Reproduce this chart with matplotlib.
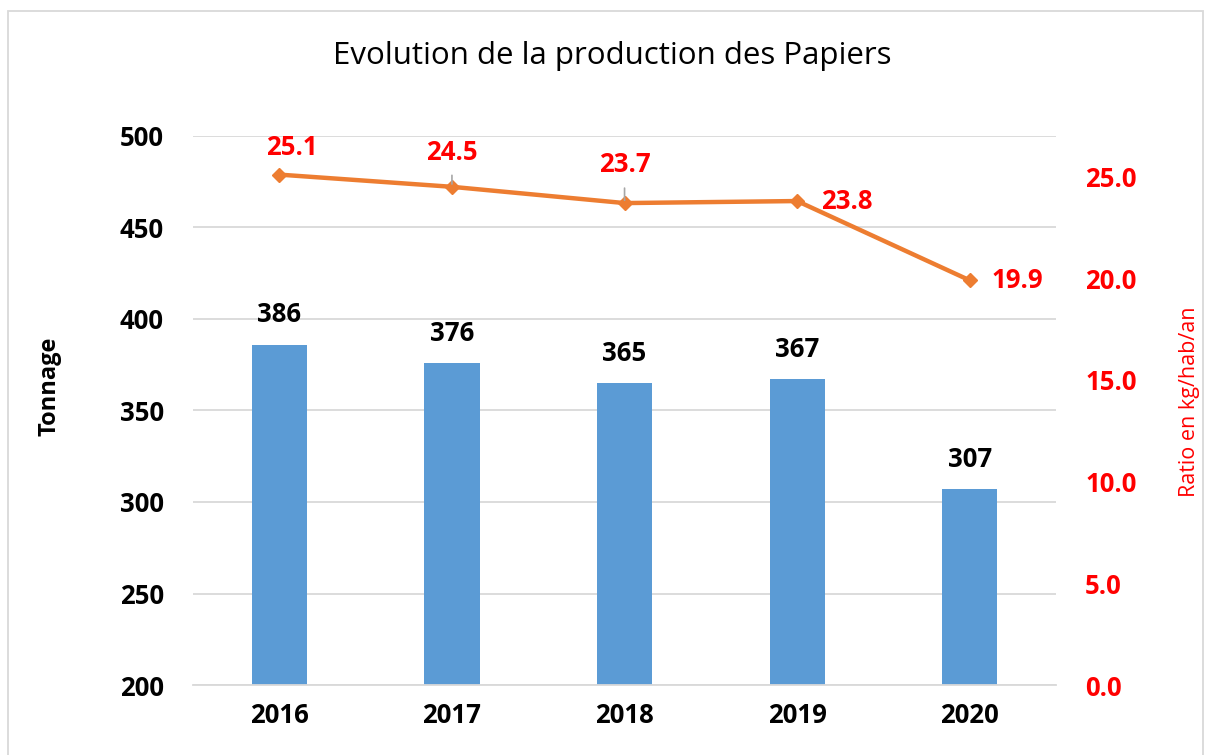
import matplotlib
matplotlib.use("Agg")
import matplotlib.pyplot as plt
from matplotlib.patches import Rectangle

plt.rcParams['font.family'] = ['Open Sans', 'DejaVu Sans']

# data
years = ['2016', '2017', '2018', '2019', '2020']
tonnage = [386, 376, 365, 367, 307]
ratio = [25.1, 24.5, 23.7, 23.8, 19.9]
left_ticks = [200, 250, 300, 350, 400, 450, 500]
right_ticks = [0, 5, 10, 15, 20, 25]

bar_color = '#5B9BD5'
line_color = '#ED7D31'
red = '#FF0000'
W, H = 1205, 755

fig = plt.figure(figsize=(12.05, 7.55), dpi=100)
ax = fig.add_axes([0.1602, 0.0927, 0.7162, 0.7272])
ax2 = ax.twinx()

x = list(range(len(years)))
ax.bar(x, tonnage, width=0.32, color=bar_color, zorder=2)
ax.set_ylim(200, 500)
ax.set_xlim(-0.5, 4.5)
ax.set_yticks(left_ticks)
ax.set_xticks(x)
ax.set_xticklabels(years)
ax.grid(axis='y', color='#D9D9D9', linewidth=1.3, zorder=0)
ax.set_axisbelow(True)
for s in ax.spines.values():
    s.set_visible(False)
for s in ax2.spines.values():
    s.set_visible(False)
ax.spines['bottom'].set_visible(True)
ax.spines['bottom'].set_color('#D9D9D9')
ax.spines['bottom'].set_linewidth(1.3)
ax.tick_params(axis='both', length=0, labelsize=18.5)
ax.tick_params(axis='y', pad=21)
ax.tick_params(axis='x', pad=12)
for lbl in ax.get_xticklabels() + ax.get_yticklabels():
    lbl.set_fontweight('bold')

for xi, v in zip(x, tonnage):
    ax.annotate(str(v), (xi, v), xytext=(0, 21.5), textcoords='offset points',
                ha='center', va='center', fontsize=18.5, fontweight='bold')

# ratio line
ax2.plot(x, ratio, color=line_color, linewidth=3.2, marker='D', markersize=7.5, zorder=3)
ax2.set_ylim(0, 27)
ax2.set_yticks(right_ticks)
ax2.set_yticklabels([f'{t:.1f}' for t in right_ticks])
ax2.tick_params(axis='y', length=0, labelsize=18.5, labelcolor=red, pad=21)
for lbl in ax2.get_yticklabels():
    lbl.set_fontweight('bold')

offsets = [(9, 19.5), (0, 25), (0, 27.5), (17, 0), (16, 0)]
has_leader = [False, True, True, False, False]
for xi, v, off, lead in zip(x, ratio, offsets, has_leader):
    ha = 'left' if off[1] == 0 else 'center'
    props = dict(arrowstyle='-', color='#A6A6A6', lw=1.2, shrinkA=5, shrinkB=2) if lead else None
    ax2.annotate(f'{v:.1f}', (xi, v), xytext=off, textcoords='offset points',
                 ha=ha, va='center', fontsize=18.5, fontweight='bold', color=red,
                 arrowprops=props)

# titles and axis labels
fig.text(612 / W, 1 - 56 / H, 'Evolution de la production des Papiers', ha='center', va='center',
         fontsize=22.5)
fig.text(50 / W, 1 - 386 / H, 'Tonnage', rotation=90, ha='center', va='center',
         fontsize=17, fontweight='bold')
fig.text(1189 / W, 1 - 402 / H, 'Ratio en kg/hab/an', rotation=90, ha='center', va='center',
         fontsize=15.5, color=red)

# chart area border
fig.patches.append(Rectangle((8 / W, -0.01), 1195 / W, 1 - 11 / H + 0.01,
                             transform=fig.transFigure, fill=False,
                             edgecolor='#D9D9D9', linewidth=1.3))

fig.savefig('out.png', dpi=100)
